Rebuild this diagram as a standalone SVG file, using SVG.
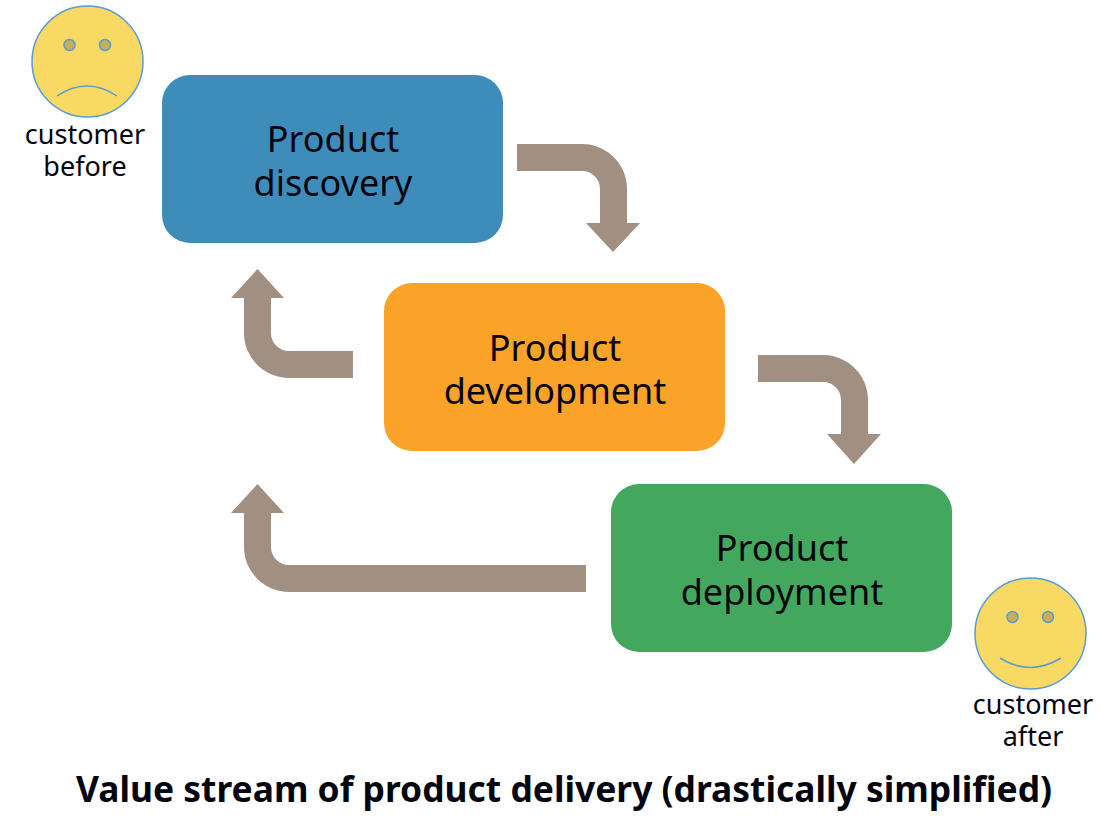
<svg xmlns="http://www.w3.org/2000/svg" width="1100" height="823" viewBox="0 0 1100 823">
<style>
.t{font-family:"Noto Sans","Open Sans",sans-serif;fill:#05050f;text-anchor:middle}
.n{font-size:36px}
.s{font-size:27px}
.face{fill:#f7d963;stroke:#5b9bd5;stroke-width:1.5}
.eye{fill:#c9ae55;stroke:#5b9bd5;stroke-width:1.5}
.mouth{fill:none;stroke:#5b9bd5;stroke-width:1.5}
.a{fill:#a18f81}
</style>
<rect width="1100" height="823" fill="#fff"/>
<g id="connectors">
<path class="a" d="M517 144H582A45 45 0 0 1 627 189V223H640L613 252L586 223H600V189A18 18 0 0 0 582 171H517Z"/>
<path class="a" d="M353 351H289A18 18 0 0 1 271 333V298H284L257.500 269L231 298H244V333A45 45 0 0 0 289 378H353Z"/>
<path class="a" d="M758 355H823A45 45 0 0 1 868 400V434H881L854 464L827 434H841V400A18 18 0 0 0 823 382H758Z"/>
<path class="a" d="M586 565H289A18 18 0 0 1 271 547V513H284L257.500 484L231 513H244V547A45 45 0 0 0 289 592H586Z"/>
</g>
<g id="discovery">
<rect x="162" y="75" width="341" height="168" rx="28" fill="#3d8cb9"/>
<text class="t n"><tspan x="333" y="152">Product</tspan><tspan x="333" y="196">discovery</tspan></text>
</g>
<g id="development">
<rect x="384" y="283" width="341" height="168" rx="28" fill="#fba328"/>
<text class="t n"><tspan x="555" y="361">Product</tspan><tspan x="555" y="404">development</tspan></text>
</g>
<g id="deployment">
<rect x="611" y="484" width="341" height="168" rx="28" fill="#43a85e"/>
<text class="t n"><tspan x="782" y="561">Product</tspan><tspan x="782" y="605">deployment</tspan></text>
</g>
<g id="customer-before">
<circle class="face" cx="87.500" cy="61.500" r="55.500"/>
<circle class="eye" cx="69.500" cy="45" r="5.500"/>
<circle class="eye" cx="105" cy="45" r="5.500"/>
<path class="mouth" d="M57 96Q87 76 117 96"/>
<text class="t s"><tspan x="85" y="144">customer</tspan><tspan x="85" y="176">before</tspan></text>
</g>
<g id="customer-after">
<circle class="face" cx="1030.500" cy="633.500" r="55.500"/>
<circle class="eye" cx="1012.500" cy="617" r="5.500"/>
<circle class="eye" cx="1048" cy="617" r="5.500"/>
<path class="mouth" d="M1000 658Q1030 677 1061 658"/>
<text class="t s"><tspan x="1033" y="714">customer</tspan><tspan x="1033" y="746">after</tspan></text>
</g>
<text class="t" x="564" y="802" font-size="35.400" font-weight="700">Value stream of product delivery (drastically simplified)</text>
</svg>
